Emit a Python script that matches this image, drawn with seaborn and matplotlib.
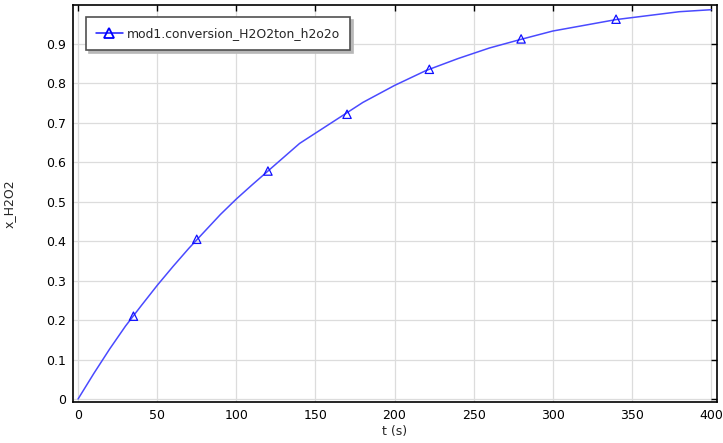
import numpy as np
import pandas as pd
import matplotlib
matplotlib.use("Agg")
import matplotlib.pyplot as plt
from matplotlib.lines import Line2D
import seaborn as sns

# curve
t_s = [0, 10, 20, 30, 40, 50, 60, 70, 80, 90, 100, 110, 120, 140, 160, 180, 200, 220, 240, 260, 280, 300, 340, 380, 400]
x_h2o2 = [0, 0.065, 0.127, 0.185, 0.237, 0.288, 0.336, 0.382, 0.425, 0.468, 0.507, 0.543, 0.578,
          0.648, 0.700, 0.752, 0.795, 0.833, 0.863, 0.890, 0.912, 0.933, 0.962, 0.982, 0.987]

# marker positions along the curve
mark_t = [35, 75, 120, 170, 222, 280, 340]
mark_x = [0.21, 0.405, 0.578, 0.722, 0.836, 0.913, 0.963]

series_name = "mod1.conversion_H2O2ton_h2o2o"

data = pd.DataFrame({"t": t_s, "x": x_h2o2})
marks = pd.DataFrame({"t": mark_t, "x": mark_x})

sns.set_style("white")
plt.rcParams["font.family"] = ["DejaVu Sans"]

fig = plt.figure(figsize=(7.23, 4.43), dpi=100)
ax = fig.add_axes([73 / 723, 41 / 443, 644 / 723, 397 / 443])

sns.lineplot(x="t", y="x", data=data, ax=ax, color="#4a4aff", linewidth=1.1, estimator=None, sort=False)
sns.scatterplot(x="t", y="x", data=marks, ax=ax, marker="^", s=36,
                facecolor="none", edgecolor="#1010ff", linewidth=0.9, zorder=3)

ax.set_xlim(-3.2, 403.8)
ax.set_ylim(-0.0076, 0.999)
ax.set_xticks(np.arange(0, 401, 50))
ax.set_yticks(np.arange(0, 0.91, 0.1))
ax.set_yticklabels(["0"] + [f"{v:.1f}" for v in np.arange(0.1, 0.91, 0.1)])
ax.grid(True, color="#dcdcdc", linewidth=0.9)
ax.set_axisbelow(True)
ax.tick_params(direction="in", length=4, width=1, top=True, right=True,
               labelsize=9, colors="black", pad=5)
for sp in ax.spines.values():
    sp.set_color("black")
    sp.set_linewidth(1.2)

ax.set_xlabel("t (s)", fontsize=9, labelpad=2)
ax.set_ylabel("x_H2O2", fontsize=9, labelpad=22)

handle = Line2D([], [], color="#1a1aff", linewidth=1.1, marker="^",
                markersize=7, markerfacecolor="none", markeredgecolor="#0000ff", markeredgewidth=1.3)
leg = ax.legend([handle], [series_name], loc="upper left", bbox_to_anchor=(0.014, 0.978),
                fontsize=8.9, fancybox=False, framealpha=1, edgecolor="#505050",
                shadow={"facecolor": "0.72", "edgecolor": "0.72", "alpha": 1},
                numpoints=1, handlelength=2.2, handletextpad=0.35, borderpad=0.8, borderaxespad=0.3)
leg.get_frame().set_linewidth(1.2)

fig.savefig("out.png", dpi=100)
